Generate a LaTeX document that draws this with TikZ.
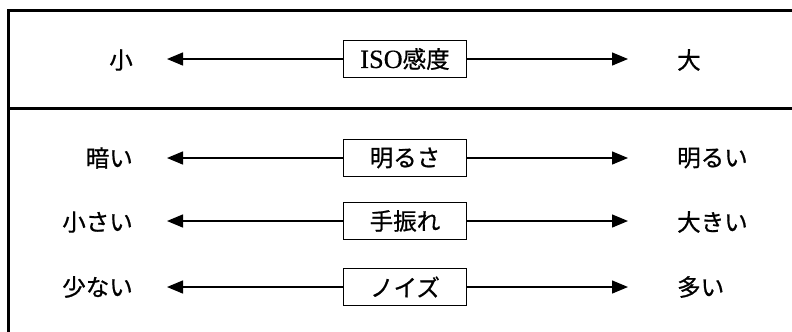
\documentclass[tikz,border=0pt]{standalone}
\usepackage{fontspec}
\setmainfont[FakeBold=0.8]{Noto Sans CJK JP}
\newfontfamily\latserif[Scale=1.12,FakeBold=0.5]{Liberation Serif}
\usetikzlibrary{arrows.meta}
\begin{document}
\begin{tikzpicture}[x=1bp,y=-1bp,
  frame/.style={line width=3bp},
  valbox/.style={draw, line width=1.3bp, minimum width=123bp, minimum height=37.5bp, inner sep=0pt, font=\fontsize{23.5bp}{26bp}\selectfont},
  lbl/.style={inner sep=0pt, font=\fontsize{23.5bp}{26bp}\selectfont},
  arr/.style={line width=1.4bp, -{Triangle[length=16bp,width=13bp]}}]
\useasboundingbox (0,0) rectangle (792,331);
\begin{scope}
\clip (0,0) rectangle (792,331);
\draw[frame] (8.7,10.7) rectangle (820,360);
\draw[frame] (8.7,108) -- (820,108);
\end{scope}
% top row
\node[valbox] (iso) at (405,59) {{\latserif ISO}感度};
\node[lbl, anchor=east] (small) at (133,60) {小};
\node[lbl, anchor=west] (large) at (677,60) {大};
\coordinate (isoL) at (167,59);
\coordinate (isoR) at (628,59);
\draw[arr] (iso.west) -- (isoL);
\draw[arr] (iso.east) -- (isoR);
% row 1
\node[valbox] (bright) at (405,158) {明るさ};
\node[lbl, anchor=east] (dark) at (133,158) {暗い};
\node[lbl, anchor=west] (light) at (677,158) {明るい};
\coordinate (brightL) at (167,158);
\coordinate (brightR) at (628,158);
\draw[arr] (bright.west) -- (brightL);
\draw[arr] (bright.east) -- (brightR);
% row 2
\node[valbox] (shake) at (405,221) {手振れ};
\node[lbl, anchor=east] (shakeS) at (133,222) {小さい};
\node[lbl, anchor=west] (shakeB) at (677,222) {大きい};
\coordinate (shakeL) at (167,221);
\coordinate (shakeR) at (628,221);
\draw[arr] (shake.west) -- (shakeL);
\draw[arr] (shake.east) -- (shakeR);
% row 3
\node[valbox] (noise) at (405,287) {ノイズ};
\node[lbl, anchor=east] (noiseS) at (133,287) {少ない};
\node[lbl, anchor=west] (noiseB) at (677,287) {多い};
\coordinate (noiseL) at (167,287);
\coordinate (noiseR) at (628,287);
\draw[arr] (noise.west) -- (noiseL);
\draw[arr] (noise.east) -- (noiseR);
\end{tikzpicture}
\end{document}
